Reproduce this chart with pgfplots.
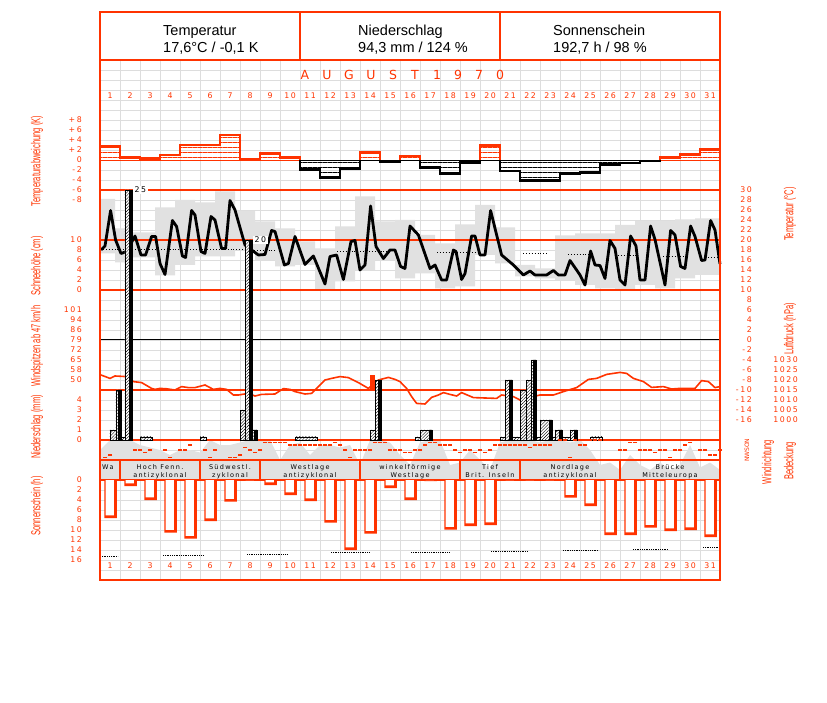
\documentclass[border=0pt]{standalone}
\usepackage{fontspec}
\setmainfont{Liberation Sans}
\newfontfamily\narrowfont[FakeStretch=0.58]{Liberation Sans}
\newfontfamily\pixfont[LetterSpace=20]{DejaVu Sans}
\usepackage{pgfplots}
\usepackage{pgfplotstable}
\pgfplotsset{compat=1.18}
\usetikzlibrary{patterns.meta}

\definecolor{dwdred}{RGB}{255,51,0}
\definecolor{band}{RGB}{225,225,225}
\definecolor{gridgray}{RGB}{221,221,221}

\newcommand\tickf{\pixfont\fontsize{7.8}{9}\selectfont}
\newcommand\labf{\narrowfont\fontsize{13}{15}\selectfont}
\newcommand\typef{\pixfont\fontsize{6.5}{7}\selectfont}

% x = days (day d spans d-1 .. d)
% temperature (degC), several readings per day
\pgfplotstableread{
x T
0.05 18
0.25 18.8
0.53 25.9
0.78 20
1.05 17.3
1.33 17.7
1.75 20.8
2.05 17
2.28 17
2.58 20.7
2.78 20.7
3.00 15.3
3.25 13.1
3.62 23.9
3.83 22.7
4.12 16.8
4.28 16.5
4.58 25.9
4.75 25
5.05 17.7
5.25 17.3
5.55 24.7
5.75 24
6.08 18.3
6.28 18.3
6.50 27.9
6.75 26
7.25 19
7.58 18
7.92 17
8.25 17.1
8.58 21.9
8.75 21.7
9.22 15
9.42 15.3
9.75 20.7
10.25 15.1
10.67 16.8
11.25 11.2
11.50 16.7
11.83 17
12.17 12.1
12.55 19.7
12.75 19.9
13.00 14
13.25 15
13.53 26.8
13.80 18.7
14.17 16.3
14.50 18
14.75 18
15.03 14.7
15.25 14.3
15.50 22.8
15.92 21
16.50 14.3
16.75 15
17.08 12
17.33 12
17.67 18
17.80 17.7
18.08 12.1
18.25 13.3
18.58 20.8
18.75 20.8
19.00 17
19.25 17
19.53 25.9
20.08 17
20.67 15
21.17 13
21.50 13.8
21.75 13
22.33 13
22.67 13.9
22.92 13
23.25 13
23.50 15.9
23.83 14
24.00 13
24.25 11
24.53 17.8
24.75 15
25.00 14.9
25.25 12.3
25.50 19.9
25.75 18.3
26.00 12
26.25 11
26.53 20.8
26.80 18.8
27.00 12
27.25 12
27.53 22.8
27.75 20.1
28.25 11
28.53 21.9
28.75 21
29.03 14.7
29.25 14.3
29.53 22.8
29.75 20.7
30.08 15.9
30.25 16
30.53 23.9
30.75 22
31.00 15.2
}\templine

% grey range band: outline, upper steps forward, lower steps back
\pgfplotstableread{
x T
0 28.2
0.75 28.2
0.75 22.3
1.4 22.3
1.4 21.5
2.75 21.5
2.75 26.5
3.75 26.5
3.75 28
4.75 28
4.75 27.5
5.75 27.5
5.75 29.7
6.75 29.7
6.75 25.8
7.75 25.8
7.75 23.7
8.75 23.7
8.75 22.3
9.75 22.3
9.75 19.7
10.75 19.7
10.75 18.3
11.75 18.3
11.75 22.7
12.75 22.7
12.75 28.7
13.75 28.7
13.75 23.7
14.75 23.7
14.75 24
15.75 24
15.75 21
16.75 21
16.75 19.3
17.75 19.3
17.75 23.1
18.75 23.1
18.75 27
19.75 27
19.75 22.5
20.75 22.5
20.75 15
21.75 15
21.75 14.3
22.75 14.3
22.75 20.9
23.75 20.9
23.75 21.3
25.75 21.3
25.75 23
26.75 23
26.75 23.8
28.75 23.8
28.75 24.1
29.75 24.1
29.75 24.3
31 24.3
31 13
29.75 13
29.75 12.3
28.75 12.3
28.75 10.3
27.75 10.3
27.75 11
26.75 11
26.75 10
25.75 10
25.75 10.3
24.75 10.3
24.75 11
23.75 11
23.75 12
22.75 12
22.75 12.3
21.75 12.3
21.75 12.7
20.75 12.7
20.75 15.3
19.75 15.3
19.75 17
18.75 17
18.75 10.7
17.75 10.7
17.75 10.3
16.75 10.3
16.75 13.3
15.75 13.3
15.75 12.3
14.75 12.3
14.75 16
13.75 16
13.75 14
12.75 14
12.75 11.7
11.75 11.7
11.75 10
10.75 10
10.75 15
9.75 15
9.75 14.7
8.75 14.7
8.75 16
7.75 16
7.75 18
6.75 18
6.75 16.7
4.75 16.7
4.75 15
3.75 15
3.75 12.9
2.75 12.9
2.75 16.5
1.4 16.5
1.4 15.5
0.75 15.5
0.75 17.3
0 17.3
}\tempband

% long-term mean (dotted pieces)
\pgfplotstableread{
x T
0 18.1
7.35 18.1
7.5 nan
7.7 18.0
8.75 18.0
9 nan
11.85 17.8
14.35 17.8
15 nan
16.85 17.5
19 17.5
20 nan
21.15 17.3
22.35 17.3
23 nan
23.4 17.1
24.5 17.1
25 nan
25.9 16.9
26.85 16.9
27 nan
28.15 16.7
29.35 16.7
30 nan
30.4 16.6
31 16.6
}\tempmean

% air pressure (hPa)
\pgfplotstableread{
x p
0.05 1022.5
0.5 1020.8
0.75 1022
1.33 1021.7
1.67 1019.2
2.08 1018.7
2.58 1015.8
2.75 1015.3
3.0 1015.8
3.33 1015.6
3.75 1015
4.08 1016.7
4.42 1016.2
4.75 1016.2
5.25 1017.5
5.67 1015.3
6.0 1015.8
6.33 1015.3
6.67 1012.5
6.92 1012.5
7.42 1013.3
7.75 1012
8.08 1012.8
8.75 1013
9.17 1015.7
9.5 1015.3
9.75 1014.2
10.25 1013
10.58 1013.3
10.83 1015.8
11.25 1020
11.58 1020.8
12.0 1021.7
12.42 1021.2
12.92 1018.7
13.42 1015.8
13.92 1020
14.42 1021.3
14.75 1020.3
15.0 1019.2
15.33 1015.8
15.58 1011.7
15.83 1008.3
16.25 1008
16.58 1011.3
16.92 1012.5
17.17 1013.7
17.5 1012.8
17.83 1012
18.08 1013.7
18.67 1011.2
19.83 1010.8
20.08 1012.5
20.67 1011.7
21.0 1010
21.5 1011.3
22.0 1012.5
22.67 1012.5
23.17 1014.2
23.83 1016.2
24.42 1020.3
24.83 1020.8
25.33 1022.8
26.0 1023.8
26.33 1023.3
26.67 1020.8
27.17 1019.2
27.58 1016.3
28.17 1016.7
28.58 1015.5
29.0 1015.8
29.75 1015.8
30.08 1019.7
30.42 1019.2
30.75 1016.2
31.0 1016.7
}\pressure

% cloud cover (octas)
\pgfplotstableread{
x c
0.0 6
0.5 8
1.0 8
1.5 8
2.0 7
2.5 6.5
3.0 6
3.5 5
4.0 6
4.5 6
5.0 5.5
5.5 8
6.0 7
6.5 7
7.0 7.5
7.5 8
8.0 8
8.5 8
9.0 4
9.5 7
10.0 7.5
10.5 5
11.0 7
11.5 7
12.0 6.5
12.5 7
13.0 3
13.5 8
14.0 8
14.5 7.5
15.0 5
15.5 3
16.0 7.5
16.5 8
17.0 8
17.5 3
18.0 3.5
18.5 6
19.0 4
19.5 2
20.0 7.5
20.5 8
21.0 8
21.5 8
22.0 7.5
22.5 8
23.0 8
23.5 7.5
24.0 8
24.5 6
25.0 3
25.5 3.5
26.0 2
26.5 5
27.0 3
27.5 2
28.0 3.5
28.5 2
29.0 3
29.5 7
30.0 2.5
30.5 3.5
31.0 2
}\cloud

% wind direction (degrees, 0 = N)
\pgfplotstableread{
x d
0.25 315
0.5 270
1.75 180
2.0 180
2.25 225
2.5 180
3.25 180
3.5 315
4.0 180
4.25 180
4.5 90
4.75 360
5.25 180
5.5 315
5.75 180
6.0 360
6.25 360
6.5 315
6.75 315
7.0 270
7.25 135
7.5 180
7.75 225
8.0 180
8.25 45
8.5 45
8.75 45
9.0 45
9.25 45
9.5 90
9.75 90
10.0 90
10.25 90
10.5 90
10.75 90
11.0 90
11.25 90
11.5 90
11.75 45
12.0 90
12.25 180
12.5 315
12.75 180
13.0 180
13.25 180
13.5 180
13.75 45
14.0 45
14.25 45
14.5 180
14.75 180
15.0 180
15.25 225
15.5 225
15.75 180
16.0 180
16.25 90
16.5 45
16.75 45
17.0 90
17.25 90
17.5 90
17.75 180
18.0 225
18.25 180
18.5 180
18.75 225
19.0 180
19.25 225
19.5 180
19.75 90
20.0 90
20.25 90
20.5 90
20.75 90
21.0 90
21.25 90
21.5 135
21.75 90
22.0 90
22.25 90
22.5 90
23.0 0
23.25 0
23.5 315
23.75 0
24.0 90
24.25 90
24.5 0
24.75 0
25.0 0
26.0 180
26.25 180
26.5 45
26.75 45
27.0 180
27.25 180
27.5 180
27.75 225
28.0 180
28.25 180
28.5 315
28.75 180
29.0 180
29.25 90
29.5 45
29.75 0
30.0 180
30.25 180
30.5 270
30.75 270
31.0 180
}\winddir

% sunshine (h) per day, bar centre
\pgfplotstableread{
x h
0.5 7.6
1.5 1.2
2.5 4
3.5 10.5
4.5 11.7
5.5 8.2
6.5 4.3
7.5 0
8.5 1.0
9.5 3
10.5 4.2
11.5 8.5
12.5 14
13.5 10.7
14.5 1.6
15.5 4
16.5 0.2
17.5 9.9
18.5 9.2
19.5 9
20.5 0
21.5 0
22.5 0
23.5 3.5
24.5 5.2
25.5 11
26.5 11
27.5 9.5
28.5 10.2
29.5 10
30.5 11.4
}\sun

% possible sunshine (dotted pieces)
\pgfplotstableread{
x h
0 15.2
0.9 15.2
2 nan
3.15 15
5.15 15
6 nan
7.35 14.8
9.4 14.8
10 nan
11.55 14.5
13.5 14.5
14 nan
15.55 14.4
17.45 14.4
18 nan
19.55 14.2
21.4 14.2
22 nan
23.15 14
24.9 14
25 nan
26.65 13.8
28.4 13.8
29 nan
30.15 13.5
31 13.5
}\sunmax

% temperature deviation (K) per day
\pgfplotstableread{
x v
0 2.7
1 0.5
2 0.3
3 1
4 3
5 3
6 5
7 0.2
8 1.3
9 0.5
10 0
13 1.5
14 0
15 0.8
16 0
19 2.9
20 0
28 0.5
29 1.1
30 2.1
31 0
}\devpos
\pgfplotstableread{
x v
0 0
10 -1.9
11 -3.5
12 -1.7
13 0
14 -0.3
15 0
16 -1.5
17 -2.7
18 -0.5
19 0
20 -2.2
21 -4.1
22 -4.1
23 -2.7
24 -2.5
25 -0.9
26 -0.6
27 -0.2
28 0
31 0
}\devneg
\pgfplotstableread{
x v
0 2.7
1 0.5
2 0.3
3 1
4 3
5 3
6 5
7 0.2
8 1.3
9 0.5
10 0
11 nan
13 0
13 1.5
14 0
14.5 nan
15 0
15 0.8
16 0
17 nan
19 0
19 2.9
20 0
21 nan
28 0
28 0.5
29 1.1
30 2.1
31 2.1
}\devposline
\pgfplotstableread{
x v
10 0
10 -1.9
11 -3.5
12 -1.7
13 0
13.5 nan
14 0
14 -0.3
15 0
15.5 nan
16 0
16 -1.5
17 -2.7
18 -0.5
19 0
19.5 nan
20 0
20 -2.2
21 -4.1
22 -4.1
23 -2.7
24 -2.5
25 -0.9
26 -0.6
27 -0.2
28 0
}\devnegline

\pgfplotsset{
  panel/.style={scale only axis, width=620pt, height=568pt,
    xmin=0, xmax=31, clip=false, hide axis},
  rain/.style={ybar interval, fill=white, draw=black, line width=0.7pt,
    postaction={pattern={Lines[angle=45,distance=2.2pt,line width=0.4pt]}}},
}

\begin{document}
\begin{tikzpicture}
\path[use as bounding box] (-100pt,-122pt) rectangle (727pt,580pt);

% grid and cloud cover
\begin{axis}[scale only axis, width=620pt, height=568pt,
  xmin=0, xmax=31, ymin=-20, ymax=93.6,
  xtick={0,...,31}, ytick={-20,-18,...,84},
  xticklabels={}, yticklabels={}, major tick length=0pt,
  axis line style={draw=none}, grid=major,
  major grid style={gridgray, line width=0.9pt}]
  \addplot[fill=band, draw=none] table[x=x, y=c] {\cloud} \closedcycle;
\end{axis}

% temperature
\begin{axis}[panel, ymin=-48, ymax=65.6]
  \addplot[fill=band, draw=none] table[x=x, y=T] {\tempband} -- cycle;
  \pgfplotsinvokeforeach{30,20,10,-10,-20,-24,-28}{
    \draw[dwdred, line width=1.4pt] (axis cs:0,#1) -- (axis cs:31,#1);
  }
  \draw[black, line width=1pt] (axis cs:0,0) -- (axis cs:31,0);
  \addplot[black, dotted, line width=0.9pt, unbounded coords=jump] table[x=x, y=T] {\tempmean};
  \addplot[black, line width=2.8pt, line join=round] table[x=x, y=T] {\templine};
\end{axis}

% temperature deviation
\begin{axis}[panel, ymin=-84, ymax=29.6]
  \addplot[ybar interval, draw=none,
    pattern={Lines[angle=0,distance=5pt,line width=0.5pt]}, pattern color=dwdred]
    table[x=x, y=v] {\devpos};
  \addplot[ybar interval, draw=none,
    pattern={Lines[angle=0,distance=5pt,line width=0.5pt]}, pattern color=black]
    table[x=x, y=v] {\devneg};
  \draw[dwdred, line width=0.8pt] (axis cs:0,0) -- (axis cs:10,0);
  \draw[black, line width=0.8pt] (axis cs:10,0) -- (axis cs:28,0);
  \draw[dwdred, line width=0.8pt] (axis cs:28,0) -- (axis cs:31,0);
  \addplot[const plot, dwdred, line width=2.2pt, unbounded coords=jump] table[x=x, y=v] {\devposline};
  \addplot[const plot, black, line width=2.2pt, unbounded coords=jump] table[x=x, y=v] {\devnegline};
\end{axis}

% air pressure
\begin{axis}[panel, ymin=920, ymax=1204]
  \addplot[dwdred, line width=1.6pt] table[x=x, y=p] {\pressure};
\end{axis}

% precipitation (mm) and wind peak
\begin{axis}[panel, ymin=-14, ymax=42.8]
  \addplot[rain] coordinates {(0.5,1) (0.8,5) (1.05,0.3) (1.25,25) (1.6,0)};
  \addplot[rain] coordinates {(2.0,0.3) (2.6,0)};
  \addplot[rain] coordinates {(5.0,0.3) (5.3,0)};
  \addplot[rain] coordinates {(7.0,3) (7.25,20) (7.6,1) (7.85,0)};
  \addplot[rain] coordinates {(9.75,0.3) (10.85,0)};
  \addplot[rain] coordinates {(13.5,1) (13.75,6) (14.05,0)};
  \addplot[rain] coordinates {(15.75,0.3) (16.0,1) (16.6,0)};
  \addplot[rain] coordinates {(20.0,0.3) (20.25,6) (20.6,0.3) (21.0,5) (21.3,6) (21.55,8)
    (21.8,0.3) (22.0,2) (22.6,0.3) (22.75,1) (23.1,0.3) (23.5,1) (23.85,0)};
  \addplot[rain] coordinates {(24.5,0.3) (25.1,0)};
  \addplot[ybar, bar width=0.14, bar shift=0pt, fill=black, draw=none]
    coordinates {(0.98,5) (1.53,25) (7.53,20) (7.78,1) (13.98,6) (16.53,1)
      (20.53,6) (21.73,8) (22.53,2) (23.03,1) (23.78,1)};
  \addplot[fill=dwdred, draw=none] coordinates {(13.5,5) (13.5,6.5) (13.75,6.5) (13.75,5)} -- cycle;
  \node[anchor=west, fill=white, inner sep=1.5pt, font=\tickf] at (axis cs:1.65,25) {25};
  \node[anchor=west, fill=white, inner sep=1.5pt, font=\tickf] at (axis cs:7.65,20) {20};
\end{axis}

% sunshine (h), hanging bars
\begin{axis}[panel, y dir=reverse, ymin=-93.6, ymax=20]
  \addplot[ybar, bar width=0.62, bar shift=0.03, fill=dwdred, draw=none]
    table[x=x, y=h] {\sun};
  \addplot[ybar, bar width=0.41, bar shift=-0.015, fill=white, draw=none]
    table[x=x, y expr={max(\thisrow{h}-0.55,0)}] {\sun};
  \addplot[black, densely dotted, line width=0.8pt, unbounded coords=jump]
    table[x=x, y=h] {\sunmax};
\end{axis}

% wind direction
\begin{axis}[panel, y dir=reverse, ymin=-7704, ymax=2520]
  \addplot[only marks, mark=-, mark size=2pt,
    mark options={dwdred, line width=1.8pt}] table[x=x, y=d] {\winddir};
\end{axis}

% frame, header and texts (image pixel coordinates)
\begin{scope}[x=1pt, y=-1pt, shift={(-100pt,580pt)}]
  \fill[white] (100,12) rectangle (720,60);
  \draw[dwdred, line width=1.3pt] (100,60) -- (720,60) (300,12) -- (300,60) (500,12) -- (500,60);
  \draw[dwdred, line width=1.5pt] (100,12) rectangle (720,580);
  \foreach \X in {120,200,260,360,460,520,620}
    \draw[dwdred, line width=1.3pt] (\X,460) -- (\X,480);

  \begin{scope}[every node/.style={anchor=base west, inner sep=0pt,
      font=\fontsize{14.5}{16}\selectfont}]
    \node at (163,36) {Temperatur};
    \node at (163,53) {17,6°C / -0,1 K};
    \node at (358,36) {Niederschlag};
    \node at (358,53) {94,3 mm / 124 \%};
    \node at (553,36) {Sonnenschein};
    \node at (553,53) {192,7 h / 98 \%};
  \end{scope}

  \foreach \c [count=\i] in {A,U,G,U,S,T}
    \node[text=dwdred, font=\pixfont\fontsize{12.5}{12}\selectfont, inner sep=0pt]
      at ({305+22*(\i-1)},75) {\c};
  \foreach \c [count=\i] in {1,9,7,0}
    \node[text=dwdred, font=\pixfont\fontsize{12.5}{12}\selectfont, inner sep=0pt]
      at ({437+21*(\i-1)},75) {\c};

  \foreach \d in {1,...,31} {
    \node[text=dwdred, font=\tickf, inner sep=0pt] at ({110+20*(\d-1)},96) {\d};
    \node[text=dwdred, font=\tickf, inner sep=0pt] at ({110+20*(\d-1)},565.5) {\d};
  }

  % left scales
  \begin{scope}[every node/.style={anchor=east, text=dwdred, font=\tickf, inner sep=0pt}]
    \foreach \y/\t in {120/+8,130/+6,140/+4,150/+2,160/0,170/-2,180/-4,190/-6,200/-8,
        240/10,250/8,260/6,270/4,280/2,290/0,
        310/101,320/94,330/86,340/79,350/72,360/65,370/58,380/50,
        400/4,410/3,420/2,430/1,440/0,
        480/0,490/2,500/4,510/6,520/8,530/10,540/12,550/14,560/16}
      \node at (82,\y) {\t};
    \foreach \t [count=\i from 0] in {30,28,26,24,22,20,18,16,14,12,10,8,6,4,2,0,-2,-4,-6,-8,-10,-12,-14,-16}
      \node at (752,{190+10*\i}) {\t};
    \foreach \t [count=\i from 0] in {1030,1025,1020,1015,1010,1005,1000}
      \node at (798,{360+10*\i}) {\t};
  \end{scope}
  \foreach \y/\c in {441/N,445.5/O,450/S,454.5/W,459/N}
    \node[rotate=90, text=dwdred, font=\pixfont\fontsize{6}{6}\selectfont, inner sep=0pt] at (747,\y) {\c};

  \begin{scope}[every node/.style={rotate=90, text=dwdred, font=\labf, inner sep=0pt}]
    \node at (37,161) {Temperaturabweichung (K)};
    \node at (37,266) {Schneehöhe (cm)};
    \node at (37,346) {Windspitzen ab 47 km/h};
    \node at (37,427) {Niederschlag (mm)};
    \node at (37,506) {Sonnenschein (h)};
    \node at (790,214) {Temperatur (°C)};
    \node at (790,329) {Luftdruck (hPa)};
    \node at (768,462) {Windrichtung};
    \node at (790,461) {Bedeckung};
  \end{scope}

  % weather types
  \node[anchor=base west, font=\typef, inner sep=0pt] at (102,469.5) {Wa};
  \foreach \X/\a/\b in {160/Hoch Fenn./antizyklonal, 230/Südwestl./zyklonal,
      310/Westlage/antizyklonal, 410/winkelförmige/Westlage, 490/Tief/Brit. Inseln,
      570/Nordlage/antizyklonal, 670/Brücke/Mitteleuropa} {
    \node[anchor=base, font=\typef, inner sep=0pt] at (\X,469.5) {\a};
    \node[anchor=base, font=\typef, inner sep=0pt] at (\X,477) {\b};
  }
\end{scope}
\end{tikzpicture}
\end{document}
